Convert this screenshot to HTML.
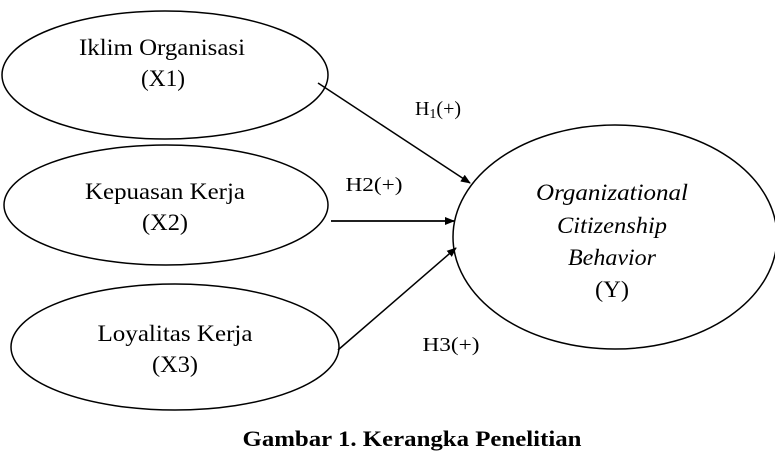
<!DOCTYPE html>
<html><head><style>body{margin:0;background:#fff}</style></head><body>
<svg width="775" height="452" xmlns="http://www.w3.org/2000/svg" font-family="Liberation Serif, serif" font-size="23">
<defs><marker id="a" markerWidth="10" markerHeight="8" refX="9" refY="4" orient="auto" markerUnits="userSpaceOnUse"><path d="M0,0L10,4L0,8z" fill="#000"/></marker></defs>
<g fill="none" stroke="#000" stroke-width="1.5">
<ellipse cx="165" cy="75" rx="163" ry="64"/>
<ellipse cx="166" cy="205" rx="162" ry="60"/>
<ellipse cx="175" cy="347" rx="164" ry="63"/>
<ellipse cx="615" cy="237" rx="162" ry="112"/>
<line x1="318" y1="83" x2="470" y2="183" marker-end="url(#a)"/>
<line x1="331" y1="221" x2="454" y2="221" stroke-width="1.8" marker-end="url(#a)"/>
<line x1="338" y1="350" x2="456" y2="248" marker-end="url(#a)"/>
</g>
<g text-anchor="middle">
<text x="162" y="55" textLength="166" lengthAdjust="spacingAndGlyphs">Iklim Organisasi</text><text x="163" y="86" textLength="44" lengthAdjust="spacingAndGlyphs">(X1)</text>
<text x="165" y="199" textLength="160" lengthAdjust="spacingAndGlyphs">Kepuasan Kerja</text><text x="165" y="230" textLength="46" lengthAdjust="spacingAndGlyphs">(X2)</text>
<text x="175" y="341" textLength="155" lengthAdjust="spacingAndGlyphs">Loyalitas Kerja</text><text x="175" y="372" textLength="46" lengthAdjust="spacingAndGlyphs">(X3)</text>
<text x="612" y="200" font-style="italic" textLength="152" lengthAdjust="spacingAndGlyphs">Organizational</text>
<text x="612" y="233" font-style="italic" textLength="110" lengthAdjust="spacingAndGlyphs">Citizenship</text>
<text x="612" y="265" font-style="italic" textLength="88" lengthAdjust="spacingAndGlyphs">Behavior</text>
<text x="612" y="297" textLength="34" lengthAdjust="spacingAndGlyphs">(Y)</text>
<text x="438" y="115" font-size="20">H<tspan font-size="14" dy="3">1</tspan><tspan dy="-3">(+)</tspan></text>
<text x="374" y="191" font-size="20" textLength="57" lengthAdjust="spacingAndGlyphs">H2(+)</text>
<text x="451" y="351" font-size="20" textLength="57" lengthAdjust="spacingAndGlyphs">H3(+)</text>
<text x="412" y="446" font-weight="bold" font-size="22" textLength="339" lengthAdjust="spacingAndGlyphs">Gambar 1. Kerangka Penelitian</text>
</g>
</svg>
</body></html>
